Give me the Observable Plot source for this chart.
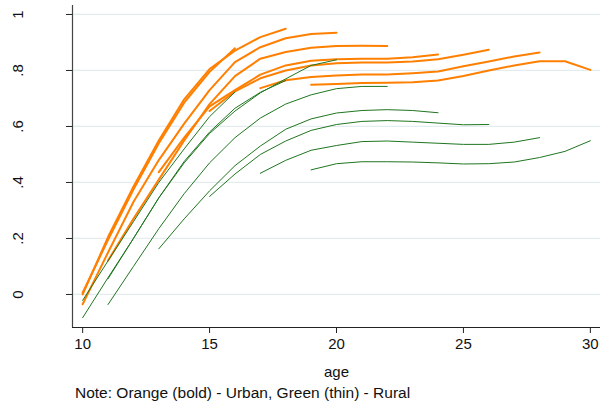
<!DOCTYPE html>
<html>
<head>
<meta charset="utf-8">
<script src="https://cdn.jsdelivr.net/npm/d3@7"></script>
<script src="https://cdn.jsdelivr.net/npm/@observablehq/plot@0.6"></script>
<style>
  body { margin: 0; background: #fff; font-family: "Liberation Sans", Arial, sans-serif; }
  #wrap { position: relative; width: 613px; height: 409px; overflow: hidden; }
  #note { position: absolute; left: 75px; top: 384px; font-size: 15.5px; color: #111; white-space: nowrap; }
</style>
</head>
<body>
<div id="wrap">
  <div id="chart"></div>
  <div id="note">Note: Orange (bold) - Urban, Green (thin) - Rural</div>
</div>
<script>
// ---- data ----
const ageTicks = [10, 15, 20, 25, 30];
const yTicks = [0, 0.2, 0.4, 0.6, 0.8, 1];
const yTickLabels = ["0", ".2", ".4", ".6", ".8", "1"];
const xLabel = "age";

// Urban (orange, bold) cohorts: first age observed and yearly values
const urbanStart = [10, 10, 10, 11, 13, 15, 17, 19];
const u1 = [0.006, 0.195, 0.375, 0.54, 0.685, 0.795, 0.879];
const u2 = [0.000, 0.205, 0.385, 0.55, 0.697, 0.805, 0.871, 0.919, 0.949];
const u3 = [-0.035, 0.15, 0.33, 0.48, 0.61, 0.73, 0.83, 0.883, 0.915, 0.93, 0.935];
const u4 = [0.121, 0.27, 0.41, 0.55, 0.68, 0.78, 0.842, 0.866, 0.881, 0.887, 0.888, 0.887];
const u5 = [0.437, 0.56, 0.672, 0.73, 0.785, 0.818, 0.835, 0.84, 0.842, 0.842, 0.847, 0.857];
const u6 = [0.655, 0.725, 0.772, 0.80, 0.818, 0.826, 0.828, 0.828, 0.832, 0.84, 0.856, 0.874];
const u7 = [0.737, 0.765, 0.777, 0.782, 0.786, 0.786, 0.79, 0.796, 0.815, 0.832, 0.85, 0.864];
const u8 = [0.749, 0.752, 0.755, 0.756, 0.758, 0.764, 0.78, 0.80, 0.818, 0.833, 0.833, 0.802];

// Rural (green, thin) cohorts
const ruralStart = [10, 10, 11, 11, 13, 15, 17, 19];
const g1 = [-0.021, 0.12, 0.26, 0.40, 0.52, 0.635, 0.723];
const g2 = [-0.083, 0.06, 0.20, 0.345, 0.47, 0.575, 0.655, 0.72, 0.77, 0.818, 0.838];
const g3 = [0.056, 0.20, 0.345, 0.475, 0.58, 0.665, 0.722, 0.764];
const g4 = [-0.036, 0.10, 0.235, 0.36, 0.47, 0.56, 0.63, 0.68, 0.713, 0.735, 0.743, 0.743];
const g5 = [0.163, 0.27, 0.37, 0.46, 0.53, 0.59, 0.627, 0.648, 0.657, 0.66, 0.657, 0.649];
const g6 = [0.35, 0.43, 0.50, 0.548, 0.586, 0.607, 0.618, 0.621, 0.618, 0.612, 0.606, 0.607];
const g7 = [0.433, 0.479, 0.515, 0.532, 0.546, 0.548, 0.544, 0.540, 0.536, 0.536, 0.544, 0.560];
const g8 = [0.445, 0.467, 0.474, 0.474, 0.473, 0.470, 0.466, 0.467, 0.473, 0.489, 0.511, 0.549];

const xDomain = [9.6, 30.4];
const yDomain = [-0.118, 1.032];

// ---- build long tables ----
function toRows(series, starts, group) {
  const rows = [];
  series.forEach((vals, i) => {
    vals.forEach((v, j) => rows.push({group, cohort: group + i, age: starts[i] + j, value: v}));
  });
  return rows;
}
const urbanRows = toRows([u1, u2, u3, u4, u5, u6, u7, u8], urbanStart, "urban");
const ruralRows = toRows([g1, g2, g3, g4, g5, g6, g7, g8], ruralStart, "rural");

const ORANGE = "#ff7f00";
const GREEN = "#1f761f";

const chart = Plot.plot({
  width: 613,
  height: 380,
  marginLeft: 72,
  marginRight: 13,
  marginTop: 5,
  marginBottom: 53,
  style: {fontFamily: "'Liberation Sans', Arial, sans-serif", fontSize: "15px", color: "#111", background: "#fff"},
  x: {domain: xDomain},
  y: {domain: yDomain},
  marks: [
    Plot.gridY(yTicks, {stroke: "#e3ecef", strokeOpacity: 1, strokeWidth: 1.3}),
    Plot.line(urbanRows, {x: "age", y: "value", z: "cohort", stroke: ORANGE, strokeWidth: 2}),
    Plot.line(ruralRows, {x: "age", y: "value", z: "cohort", stroke: GREEN, strokeWidth: 1}),
    Plot.ruleX([xDomain[0]], {stroke: "#444", strokeWidth: 1.2}),
    Plot.ruleY([yDomain[0]], {stroke: "#222", strokeWidth: 1}),
    Plot.axisX({ticks: ageTicks, tickSize: 6, tickPadding: 5, label: null, stroke: "#222", fill: "#111"}),
    Plot.axisY({ticks: yTicks, tickSize: 6, tickFormat: () => "", label: null, stroke: "#222"}),
    Plot.text(yTicks, {y: d => d, text: (d, i) => yTickLabels[i], frameAnchor: "left", dx: -54, rotate: -90, textAnchor: "middle", lineAnchor: "middle", fill: "#111"}),
    Plot.text([xLabel], {text: d => d, frameAnchor: "bottom", dy: 45, textAnchor: "middle", lineAnchor: "middle", fill: "#111"})
  ]
});
document.getElementById("chart").appendChild(chart);
</script>
</body>
</html>
